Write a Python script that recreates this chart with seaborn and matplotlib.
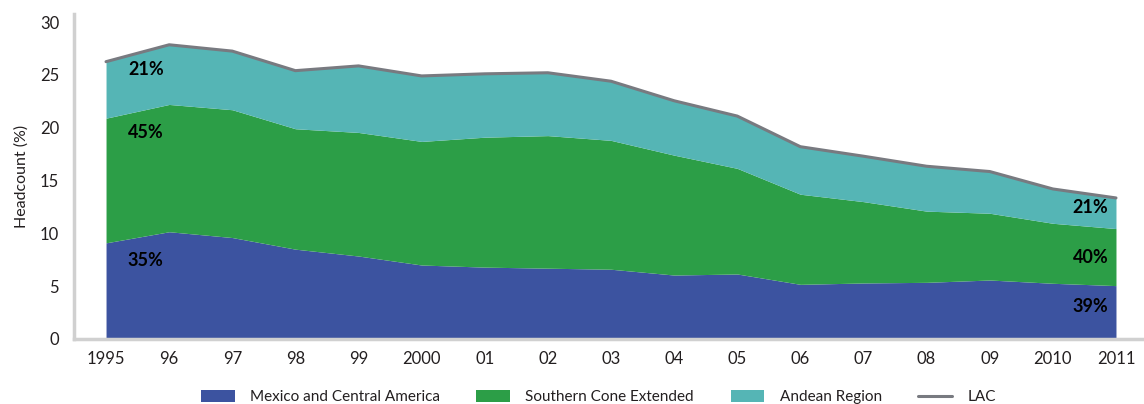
import matplotlib
matplotlib.use("Agg")
import matplotlib.pyplot as plt
import seaborn as sns
import pandas as pd
import numpy as np
from matplotlib.patches import Patch
from matplotlib.lines import Line2D

sns.set_theme(style="white")
plt.rcParams['font.family'] = ['Lato', 'DejaVu Sans']

years = ["1995", "96", "97", "98", "99", "2000", "01", "02", "03", "04", "05",
         "06", "07", "08", "09", "2010", "2011"]
mexico_ca = [9.1, 10.15, 9.6, 8.5, 7.85, 7.0, 6.8, 6.7, 6.6, 6.05, 6.15,
             5.17, 5.3, 5.36, 5.58, 5.27, 5.05]
southern_cone = [11.8, 12.05, 12.1, 11.4, 11.7, 11.7, 12.3, 12.55, 12.2, 11.35, 10.0,
                 8.53, 7.7, 6.74, 6.32, 5.68, 5.4]
lac_total = [26.25, 27.85, 27.25, 25.4, 25.85, 24.9, 25.1, 25.2, 24.4, 22.55, 21.1,
             18.2, 17.3, 16.35, 15.85, 14.2, 13.35]
series_names = ["Mexico and Central America", "Southern Cone Extended", "Andean Region", "LAC"]
share_left = ["21%", "45%", "35%"]
share_right = ["21%", "40%", "39%"]

mexico_arr = np.array(mexico_ca)
sc_arr = np.array(southern_cone)
lac_arr = np.array(lac_total)
andean = lac_arr - mexico_arr - sc_arr

colors = ["#3c53a0", "#2c9e47", "#55b5b5"]
lac_color = "#787a80"
spine_color = "#d0d0d0"
text_color = "#231f20"

df = pd.DataFrame({"x": np.arange(len(years)), "LAC": lac_arr})

fig = plt.figure(figsize=(11.44, 4.04), dpi=100)
ax = fig.add_axes([0.0651, 0.161, 0.938, 0.804])

ax.stackplot(df["x"], mexico_arr, sc_arr, andean, colors=colors, linewidth=0)
sns.lineplot(data=df, x="x", y="LAC", ax=ax, color=lac_color, linewidth=2.2)

ax.set_xlim(-0.5, len(years) - 0.5)
ax.set_ylim(0, 30.75)
ax.set_yticks([0, 5, 10, 15, 20, 25, 30])
ax.set_xticks(np.arange(len(years)))
ax.set_xticklabels(years)
ax.set_xticks(np.arange(len(years) + 1) - 0.5, minor=True)
ax.tick_params(axis="x", which="major", length=0, pad=9, labelsize=12, labelcolor=text_color)
ax.tick_params(axis="x", which="minor", length=8, width=2.5, color=spine_color, direction="out")
ax.tick_params(axis="y", length=7, width=2.5, color=spine_color, direction="out",
               labelsize=12, labelcolor=text_color, pad=4)
ax.set_xlabel("")
ax.set_ylabel("Headcount (%)", fontsize=11.5, color=text_color, labelpad=8)

for s in ["top", "right"]:
    ax.spines[s].set_visible(False)
for s in ["left", "bottom"]:
    ax.spines[s].set_color(spine_color)
    ax.spines[s].set_linewidth(2.5)

left_y = [25.5, 19.5, 7.4]
right_y = [12.4, 7.75, 3.1]
for lab, yv in zip(share_left, left_y):
    ax.text(0.63, yv, lab, ha="center", va="center", fontsize=13, fontweight="bold", color="black")
for lab, yv in zip(share_right, right_y):
    ax.text(15.6, yv, lab, ha="center", va="center", fontsize=13, fontweight="bold", color="black")

handles = [Patch(facecolor=c, edgecolor="none") for c in colors]
handles.append(Line2D([0], [0], color=lac_color, linewidth=2.2))
fig.legend(handles, series_names, loc="lower center", bbox_to_anchor=(0.523, -0.035), ncol=4,
           frameon=False, fontsize=11, handlelength=2.2, handleheight=0.85,
           columnspacing=2.4, handletextpad=1.0, labelcolor=text_color)

fig.savefig("out.png", dpi=100)
